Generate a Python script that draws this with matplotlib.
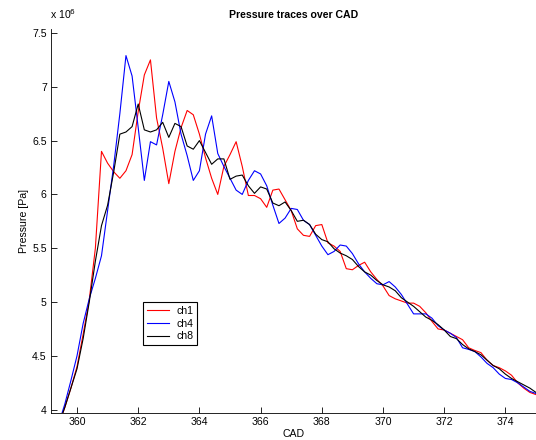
import matplotlib
matplotlib.use('Agg')
import matplotlib.pyplot as plt
import numpy as np
from matplotlib.ticker import FuncFormatter

plt.rcParams['font.family'] = ['Liberation Sans', 'DejaVu Sans']

# crank angle grid, 0.2 deg steps
cad_start, cad_step, n_pts = 359.4, 0.2, 79
cad = np.round(cad_start + cad_step * np.arange(n_pts), 1)

# pressure in units of 1e6 Pa
ch1 = [3.86, 4.02, 4.20, 4.40, 4.70, 5.02, 5.50, 6.40, 6.29, 6.21,
       6.15, 6.22, 6.37, 6.77, 7.11, 7.25, 6.71, 6.43, 6.10, 6.40,
       6.62, 6.78, 6.74, 6.56, 6.34, 6.15, 6.00, 6.26, 6.37, 6.49,
       6.26, 5.99, 5.99, 5.96, 5.88, 6.04, 6.05, 5.95, 5.85, 5.68,
       5.62, 5.61, 5.71, 5.72, 5.55, 5.52, 5.47, 5.31, 5.30, 5.34,
       5.37, 5.28, 5.21, 5.15, 5.06, 5.03, 5.01, 4.99, 4.99, 4.96,
       4.90, 4.82, 4.75, 4.74, 4.71, 4.68, 4.65, 4.575, 4.55, 4.53,
       4.46, 4.41, 4.39, 4.36, 4.32, 4.25, 4.20, 4.16, 4.14]
ch4 = [3.87, 4.05, 4.27, 4.50, 4.80, 5.03, 5.22, 5.43, 5.85, 6.27,
       6.75, 7.29, 7.10, 6.62, 6.13, 6.49, 6.46, 6.74, 7.05, 6.86,
       6.56, 6.36, 6.13, 6.22, 6.56, 6.73, 6.38, 6.26, 6.15, 6.04,
       6.00, 6.13, 6.22, 6.19, 6.08, 5.90, 5.73, 5.78, 5.87, 5.86,
       5.76, 5.72, 5.62, 5.52, 5.44, 5.47, 5.53, 5.52, 5.45, 5.355,
       5.28, 5.22, 5.17, 5.16, 5.19, 5.14, 5.07, 4.98, 4.89, 4.89,
       4.89, 4.85, 4.78, 4.74, 4.71, 4.67, 4.575, 4.56, 4.54, 4.49,
       4.43, 4.39, 4.33, 4.29, 4.28, 4.25, 4.21, 4.17, 4.15]
ch8 = [3.86, 4.02, 4.20, 4.38, 4.66, 5.00, 5.38, 5.71, 5.90, 6.21,
       6.56, 6.58, 6.63, 6.84, 6.60, 6.58, 6.60, 6.67, 6.53, 6.66,
       6.63, 6.45, 6.42, 6.50, 6.39, 6.28, 6.33, 6.33, 6.14, 6.17,
       6.18, 6.08, 6.01, 6.07, 6.05, 5.92, 5.895, 5.93, 5.85, 5.75,
       5.76, 5.72, 5.63, 5.58, 5.56, 5.495, 5.455, 5.43, 5.395, 5.33,
       5.28, 5.25, 5.20, 5.16, 5.14, 5.105, 5.04, 5.00, 4.96, 4.91,
       4.86, 4.83, 4.79, 4.74, 4.68, 4.66, 4.605, 4.565, 4.54, 4.51,
       4.46, 4.41, 4.38, 4.33, 4.29, 4.26, 4.23, 4.20, 4.16]

fs = 7.6

fig = plt.figure(figsize=(5.36, 4.4), dpi=100)
ax = fig.add_axes([51 / 536, 27 / 440, 485 / 536, 384 / 440])

ax.plot(cad, ch1, color='red', lw=0.8, label='ch1')
ax.plot(cad, ch4, color='blue', lw=0.8, label='ch4')
ax.plot(cad, ch8, color='black', lw=0.8, label='ch8')

ax.set_xlim(359.15, 375.0)
ax.set_ylim(3.969, 7.537)
ax.set_xticks(np.arange(360, 375, 2))
ax.set_yticks(np.arange(4, 7.6, 0.5))
ax.yaxis.set_major_formatter(FuncFormatter(lambda v, p: '%g' % v))

ax.spines['top'].set_visible(False)
ax.spines['right'].set_visible(False)
ax.tick_params(direction='in', length=4, width=0.6, labelsize=fs, pad=3)
ax.spines['left'].set_linewidth(0.6)
ax.spines['bottom'].set_linewidth(0.6)

ax.set_title('Pressure traces over CAD', fontsize=fs, fontweight='bold', pad=8)
ax.set_xlabel('CAD', fontsize=fs, labelpad=1)
ax.set_ylabel('Pressure [Pa]', fontsize=fs, labelpad=2)
ax.text(-0.002, 1.02, r'x 10$^{6}$', transform=ax.transAxes, fontsize=fs,
        ha='left', va='bottom')

leg = ax.legend(loc='lower left', bbox_to_anchor=(0.19, 0.177), fontsize=fs,
                handlelength=2.1, handletextpad=0.7, fancybox=False,
                framealpha=1, edgecolor='black', borderpad=0.35,
                labelspacing=0.25, borderaxespad=0)
leg.get_frame().set_linewidth(0.8)

fig.savefig('out.png', dpi=100)
